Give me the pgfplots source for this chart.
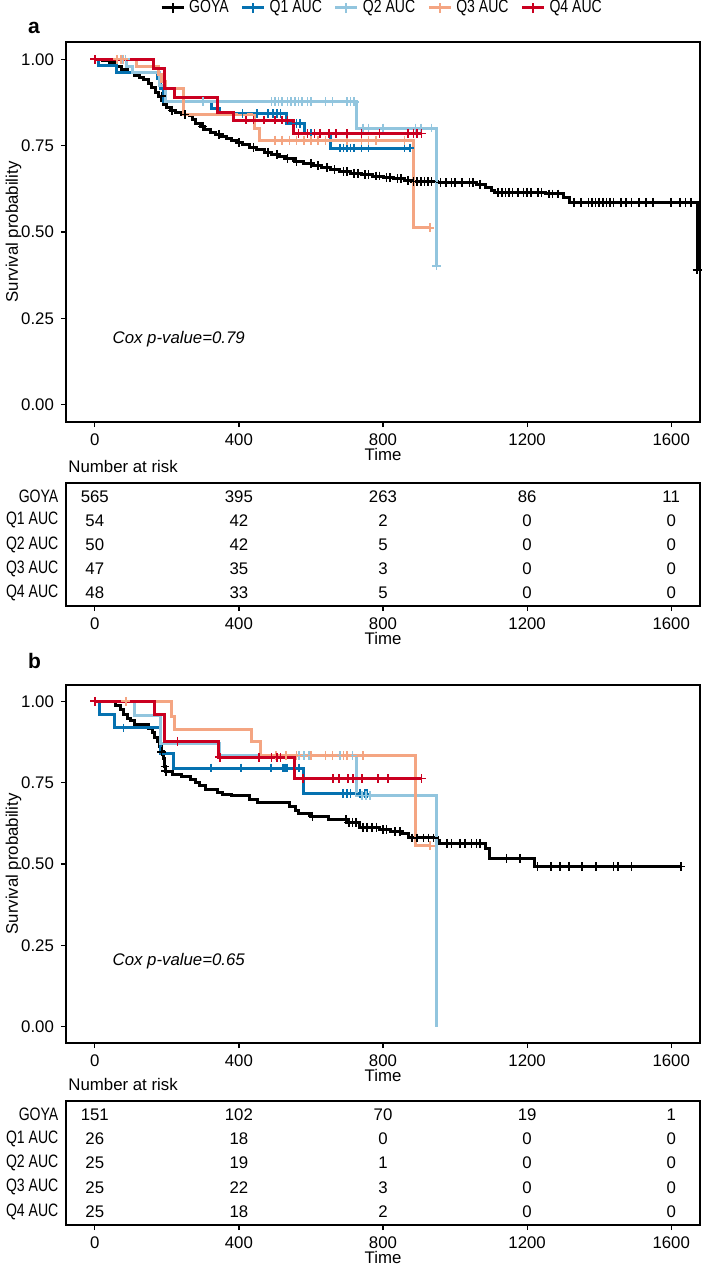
\documentclass[border=0pt]{standalone}
\usepackage{fontspec}
\setmainfont{Liberation Sans}
\usepackage{graphicx}
\usepackage{pgfplots}
\pgfplotsset{compat=1.18}
\definecolor{cgoya}{HTML}{000000}
\definecolor{cqa}{HTML}{0571B0}
\definecolor{cqb}{HTML}{92C5DE}
\definecolor{cqc}{HTML}{F4A582}
\definecolor{cqd}{HTML}{CA0020}
\newcommand{\tf}{\fontsize{8.4}{10}\selectfont}
\newcommand{\cf}[1]{\scalebox{0.78}[1]{\fontsize{9}{10}\selectfont #1}}
\pgfplotsset{
  base/.style={scale only axis, width=317pt, xmin=-80, xmax=1680,
    xtick={0,400,800,1200,1600}, tick align=outside, tick pos=left,
    major tick length=2.5pt, tick style={black, line width=0.6pt},
    axis line style={black, line width=0.7pt},
    ticklabel style={font=\tf},
    /pgf/number format/assume math mode=true,
    /pgf/number format/1000 sep={},
    xlabel=Time, label style={font=\tf},
    xlabel style={at={(axis description cs:0.5,0)}, anchor=center, yshift=-16pt},
  },
  km/.style={base, ymin=-0.05, ymax=1.05, ytick={0,0.25,0.5,0.75,1},
    yticklabel style={/pgf/number format/fixed, /pgf/number format/fixed zerofill, /pgf/number format/precision=2},
    ylabel=Survival probability,
    ylabel style={at={(axis description cs:-0.0828,0.5)}, anchor=center},
  },
  rt/.style={base, ymin=0.45, ymax=5.55, y dir=reverse, ytick={1,2,3,4,5},
    yticklabels={\cf{GOYA},\cf{Q1 AUC},\cf{Q2 AUC},\cf{Q3 AUC},\cf{Q4 AUC}},
    ytick style={draw=none}, yticklabel style={xshift=2.2pt},
    title={Number at risk}, title style={at={(0,1)}, anchor=base west, yshift=-0.5pt, xshift=-2.3pt, font=\tf},
  },
  kml/.style={const plot, line width=1.5pt, mark=none},
  cen/.style={only marks, mark=+, mark size=2.2pt, mark options={line width=0.8pt, solid}, forget plot},
  num/.style={only marks, mark=none, nodes near coords, point meta=explicit symbolic,
    every node near coord/.append style={anchor=center, font=\tf}},
}
\begin{document}
\begin{tikzpicture}
\useasboundingbox (0pt,0pt) rectangle (351pt,-634pt);
\node[anchor=base west, font=\bfseries\fontsize{10.5}{12}\selectfont] at (10.5pt,-17pt) {a};
\node[anchor=base west, font=\bfseries\fontsize{10.5}{12}\selectfont] at (10.5pt,-334pt) {b};

% ---------------- panel a ----------------
\begin{axis}[km, at={(33pt,-21pt)}, anchor=north west, height=190pt,
  legend columns=5,
  legend style={at={(0.5,1.0895)}, anchor=center, draw=none, fill=none, font=\tf,
    /tikz/every even column/.append style={column sep=4pt}},
  legend image code/.code={\draw[#1, line width=1.5pt] (0pt,0pt) -- (11pt,0pt); \draw[#1, line width=1pt] (5.5pt,-2.6pt) -- (5.5pt,2.6pt);},
]
\addplot[kml, cgoya] coordinates {(0,1.000)(20,0.995)(40,0.990)(60,0.980)(75,0.970)(90,0.962)(110,0.954)(125,0.947)(135,0.940)(148,0.930)(158,0.918)(168,0.905)(178,0.893)(186,0.880)(192,0.868)(200,0.860)(210,0.852)(225,0.845)(240,0.840)(262,0.836)(270,0.826)(280,0.815)(292,0.805)(305,0.797)(320,0.789)(335,0.783)(350,0.776)(365,0.770)(380,0.764)(395,0.758)(410,0.752)(430,0.745)(450,0.738)(470,0.731)(490,0.725)(510,0.718)(530,0.712)(555,0.705)(580,0.699)(605,0.692)(630,0.686)(655,0.680)(680,0.675)(710,0.670)(740,0.666)(770,0.662)(800,0.658)(830,0.654)(860,0.650)(880,0.646)(950,0.643)(1060,0.638)(1085,0.630)(1100,0.620)(1110,0.615)(1250,0.610)(1300,0.600)(1318,0.586)(1672,0.586)(1672,0.390)};
\addlegendentry{\cf{GOYA}}
\addplot[cen, cgoya] coordinates {(185,0.893)(215,0.852)(250,0.840)(300,0.805)(345,0.783)(400,0.758)(440,0.745)(480,0.731)(505,0.725)(535,0.712)(560,0.705)(600,0.699)(620,0.692)(645,0.686)(665,0.680)(690,0.675)(700,0.675)(720,0.670)(730,0.670)(750,0.666)(760,0.666)(780,0.662)(790,0.662)(810,0.658)(820,0.658)(840,0.654)(850,0.654)(870,0.650)(885,0.646)(895,0.646)(905,0.646)(915,0.646)(925,0.646)(935,0.646)(960,0.643)(975,0.643)(990,0.643)(1000,0.643)(1020,0.643)(1040,0.643)(1050,0.643)(1070,0.638)(1120,0.615)(1130,0.615)(1140,0.615)(1150,0.615)(1160,0.615)(1175,0.615)(1190,0.615)(1200,0.615)(1210,0.615)(1230,0.615)(1240,0.615)(1260,0.610)(1270,0.610)(1285,0.610)(1330,0.586)(1350,0.586)(1370,0.586)(1380,0.586)(1390,0.586)(1400,0.586)(1410,0.586)(1420,0.586)(1430,0.586)(1440,0.586)(1460,0.586)(1475,0.586)(1490,0.586)(1510,0.586)(1530,0.586)(1550,0.586)(1600,0.586)(1625,0.586)(1640,0.586)(1655,0.586)(1672,0.390)};
\addplot[kml, cqa] coordinates {(0,1.000)(10,0.981)(60,0.963)(175,0.944)(182,0.916)(192,0.878)(324,0.858)(345,0.843)(532,0.814)(583,0.785)(653,0.743)(875,0.743)};
\addlegendentry{\cf{Q1 AUC}}
\addplot[cen, cqa] coordinates {(410,0.843)(450,0.843)(480,0.843)(495,0.843)(505,0.843)(515,0.843)(560,0.814)(570,0.814)(600,0.785)(680,0.743)(690,0.743)(700,0.743)(710,0.743)(720,0.743)(740,0.743)(760,0.743)(860,0.743)(875,0.743)};
\addplot[kml, cqb] coordinates {(0,1.000)(88,0.980)(105,0.962)(180,0.925)(195,0.877)(727,0.801)(949,0.402)};
\addlegendentry{\cf{Q2 AUC}}
\addplot[cen, cqb] coordinates {(75,1.000)(85,1.000)(300,0.877)(490,0.877)(500,0.877)(510,0.877)(520,0.877)(535,0.877)(545,0.877)(555,0.877)(565,0.877)(575,0.877)(590,0.877)(600,0.877)(640,0.877)(660,0.877)(700,0.877)(710,0.877)(720,0.877)(745,0.801)(760,0.801)(800,0.801)(890,0.801)(905,0.801)(935,0.801)(949,0.402)};
\addplot[kml, cqc] coordinates {(0,1.000)(116,0.979)(178,0.957)(185,0.936)(195,0.915)(245,0.840)(444,0.800)(458,0.766)(884,0.512)(930,0.512)};
\addlegendentry{\cf{Q3 AUC}}
\addplot[cen, cqc] coordinates {(62,1.000)(72,1.000)(80,1.000)(500,0.766)(520,0.766)(540,0.766)(560,0.766)(580,0.766)(600,0.766)(620,0.766)(640,0.766)(700,0.766)(740,0.766)(760,0.766)(780,0.766)(860,0.766)(930,0.512)};
\addplot[kml, cqd] coordinates {(0,1.000)(164,0.974)(194,0.916)(222,0.890)(340,0.846)(384,0.824)(551,0.785)(907,0.785)};
\addlegendentry{\cf{Q4 AUC}}
\addplot[cen, cqd] coordinates {(0,1.000)(420,0.824)(440,0.824)(470,0.824)(500,0.824)(520,0.824)(535,0.824)(565,0.785)(590,0.785)(610,0.785)(625,0.785)(650,0.785)(670,0.785)(700,0.785)(740,0.785)(790,0.785)(870,0.785)(885,0.785)(895,0.785)(907,0.785)};
\node[anchor=west, font=\itshape\tf] at (axis cs:30,0.19) {Cox p-value=0.79};
\end{axis}

% ---------------- risk table a ----------------
\begin{axis}[rt, at={(33pt,-241.5pt)}, anchor=north west, height=61.5pt]
\addplot[num] table[meta=lab] {
x y lab
0 1 565
400 1 395
800 1 263
1200 1 86
1600 1 11
0 2 54
400 2 42
800 2 2
1200 2 0
1600 2 0
0 3 50
400 3 42
800 3 5
1200 3 0
1600 3 0
0 4 47
400 4 35
800 4 3
1200 4 0
1600 4 0
0 5 48
400 5 33
800 5 5
1200 5 0
1600 5 0
};
\end{axis}

% ---------------- panel b ----------------
\begin{axis}[km, at={(33pt,-342.5pt)}, anchor=north west, height=179pt]
\addplot[kml, cgoya] coordinates {(0,1.000)(58,0.987)(70,0.974)(80,0.960)(90,0.947)(100,0.940)(110,0.930)(150,0.916)(160,0.903)(167,0.890)(174,0.877)(180,0.860)(185,0.845)(190,0.825)(194,0.800)(197,0.785)(215,0.776)(240,0.769)(265,0.761)(280,0.750)(290,0.740)(308,0.728)(340,0.720)(355,0.714)(380,0.709)(430,0.699)(452,0.689)(540,0.678)(556,0.665)(565,0.655)(600,0.647)(650,0.637)(700,0.628)(736,0.613)(790,0.606)(820,0.600)(855,0.594)(872,0.580)(950,0.573)(958,0.564)(1085,0.549)(1095,0.518)(1220,0.492)(1627,0.492)};
\addplot[cen, cgoya] coordinates {(185,0.845)(195,0.800)(197,0.785)(604,0.647)(697,0.637)(705,0.628)(715,0.628)(725,0.628)(745,0.613)(755,0.613)(770,0.613)(782,0.613)(800,0.606)(810,0.606)(833,0.600)(847,0.600)(880,0.580)(894,0.580)(912,0.580)(926,0.580)(940,0.580)(977,0.564)(990,0.564)(1014,0.564)(1028,0.564)(1046,0.564)(1060,0.564)(1069,0.564)(1143,0.518)(1181,0.518)(1229,0.492)(1266,0.492)(1291,0.492)(1316,0.492)(1353,0.492)(1391,0.492)(1440,0.492)(1453,0.492)(1490,0.492)(1627,0.492)};
\addplot[kml, cqa] coordinates {(0,1.000)(12,0.960)(54,0.918)(183,0.839)(218,0.795)(578,0.716)(755,0.716)};
\addplot[cen, cqa] coordinates {(80,0.918)(322,0.795)(405,0.795)(489,0.795)(522,0.795)(528,0.795)(534,0.795)(567,0.795)(689,0.716)(700,0.716)(710,0.716)(736,0.716)(750,0.716)(755,0.716)};
\addplot[kml, cqb] coordinates {(0,1.000)(109,0.957)(183,0.870)(345,0.833)(727,0.711)(949,0.000)};
\addplot[cen, cqb] coordinates {(566,0.833)(580,0.833)(594,0.833)(680,0.833)(700,0.833)(715,0.833)(741,0.711)(752,0.711)(764,0.711)};
\addplot[kml, cqc] coordinates {(0,1.000)(214,0.953)(220,0.914)(436,0.875)(461,0.833)(889,0.556)(931,0.556)};
\addplot[cen, cqc] coordinates {(86,1.000)(503,0.833)(531,0.833)(560,0.833)(600,0.833)(640,0.833)(660,0.833)(690,0.833)(700,0.833)(745,0.833)(931,0.556)};
\addplot[kml, cqd] coordinates {(0,1.000)(165,0.960)(194,0.877)(343,0.828)(554,0.763)(907,0.763)};
\addplot[cen, cqd] coordinates {(0,1.000)(229,0.877)(347,0.828)(455,0.828)(490,0.828)(505,0.828)(515,0.828)(578,0.763)(662,0.763)(678,0.763)(703,0.763)(717,0.763)(741,0.763)(786,0.763)(814,0.763)(907,0.763)};
\node[anchor=west, font=\itshape\tf] at (axis cs:30,0.2) {Cox p-value=0.65};
\end{axis}

% ---------------- risk table b ----------------
\begin{axis}[rt, at={(33pt,-550.5pt)}, anchor=north west, height=62pt]
\addplot[num] table[meta=lab] {
x y lab
0 1 151
400 1 102
800 1 70
1200 1 19
1600 1 1
0 2 26
400 2 18
800 2 0
1200 2 0
1600 2 0
0 3 25
400 3 19
800 3 1
1200 3 0
1600 3 0
0 4 25
400 4 22
800 4 3
1200 4 0
1600 4 0
0 5 25
400 5 18
800 5 2
1200 5 0
1600 5 0
};
\end{axis}
\end{tikzpicture}
\end{document}
